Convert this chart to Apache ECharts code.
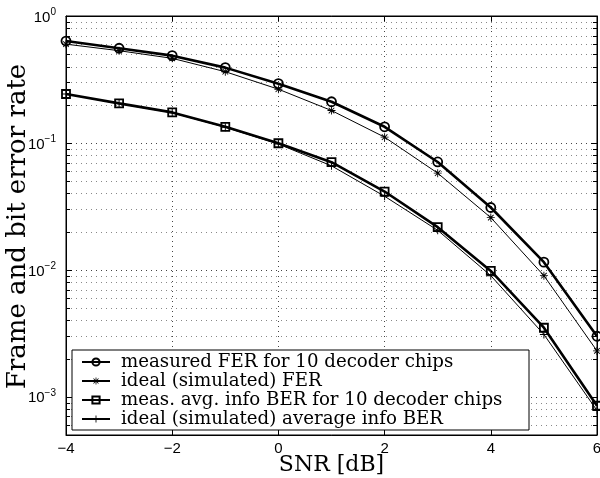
<!DOCTYPE html>
<html>
<head>
<meta charset="utf-8">
<title>Frame and bit error rate vs SNR</title>
<script src="https://cdn.jsdelivr.net/npm/echarts@6/dist/echarts.min.js"></script>
<style>
  html, body { margin: 0; padding: 0; background: #fff; }
  #chart { width: 600px; height: 478px; }
</style>
</head>
<body>
<div id="chart"></div>
<script>
// SNR points in dB
const snr = [-4, -3, -2, -1, 0, 1, 2, 3, 4, 5, 6];

// Frame error rate: measured (10 decoder chips) and ideal simulation
const ferMeasured = [0.635, 0.557, 0.487, 0.392, 0.293, 0.211, 0.134, 0.0708, 0.031, 0.0115, 0.0030];
const ferIdeal    = [0.600, 0.533, 0.464, 0.364, 0.265, 0.180, 0.111, 0.0578, 0.0258, 0.0090, 0.0023];

// Average information bit error rate: measured and ideal simulation
const berMeasured = [0.243, 0.205, 0.174, 0.134, 0.0994, 0.0705, 0.0414, 0.0217, 0.0098, 0.0035, 0.00085];
const berIdeal    = [0.243, 0.204, 0.173, 0.133, 0.0980, 0.0660, 0.0380, 0.0205, 0.0090, 0.0031, 0.00078];

const seriesNames = [
  'measured FER for 10 decoder chips',
  'ideal (simulated) FER',
  'meas. avg. info BER for 10 decoder chips',
  'ideal (simulated) average info BER'
];

const xTitle = 'SNR [dB]';
const yTitle = 'Frame and bit error rate';

// Axis ranges
const X_MIN = -4, X_MAX = 6, X_STEP = 2;
const Y_MIN = 0.0005, Y_MAX = 1;

// Minor log-grid values (2..9 times each decade) inside the y range
const minorValues = [];
for (let d = -4; d <= -1; d++) {
  for (let k = 2; k <= 9; k++) {
    const v = k * Math.pow(10, d);
    if (v > Y_MIN * 1.0001 && v < Y_MAX) minorValues.push(v);
  }
}

const pairs = arr => snr.map((x, i) => [x, arr[i]]);

const ASTERISK = 'path://M-0.55,-5h1.1v10h-1.1z M-5,-0.55h10v1.1h-10z ' +
  'M-3.9,-3.1L-3.1,-3.9L3.9,3.1L3.1,3.9z M3.1,-3.9L3.9,-3.1L-3.1,3.9L-3.9,3.1z';
const PLUS = 'path://M-0.6,-5h1.2v10h-1.2z M-5,-0.6h10v1.2h-10z';

const sansFont = 'Liberation Sans';
const serifFont = 'DejaVu Serif';
const minus = n => (n < 0 ? '\u2212' + Math.abs(n) : String(n));

// Plot box in pixels
const GRID = { left: 66, right: 3, top: 16, bottom: 43 };
const W = 600, H = 478;

const chart = echarts.init(document.getElementById('chart'), null, { renderer: 'canvas' });

const option = {
  animation: false,
  backgroundColor: '#fff',
  grid: Object.assign({
    outerBoundsMode: 'none', containLabel: false,
    show: true, borderColor: '#000', borderWidth: 1, backgroundColor: 'transparent'
  }, GRID),
  xAxis: [
    {
      type: 'value', min: X_MIN, max: X_MAX, interval: X_STEP,
      axisLine: { show: true, onZero: false, lineStyle: { color: '#000', width: 1 } },
      axisTick: { show: true, inside: true, length: 5, lineStyle: { color: '#000' } },
      axisLabel: {
        fontFamily: sansFont, fontSize: 15, color: '#000', margin: 6,
        formatter: v => minus(v)
      },
      splitLine: { show: true, lineStyle: { color: '#444', width: 1, type: [1, 4] } }
    },
    {
      type: 'value', min: X_MIN, max: X_MAX, interval: X_STEP, position: 'top',
      axisLine: { show: true, onZero: false, lineStyle: { color: '#000' } },
      axisTick: { show: true, inside: true, length: 5, lineStyle: { color: '#000' } },
      axisLabel: { show: false }, splitLine: { show: false }
    }
  ],
  yAxis: [
    {
      type: 'log', logBase: 10, min: Y_MIN, max: Y_MAX,
      axisLine: { show: true, onZero: false, lineStyle: { color: '#000', width: 1 } },
      axisTick: { show: true, inside: true, length: 6, lineStyle: { color: '#000' } },
      axisLabel: {
        margin: 10, showMinLabel: true,
        formatter: function (v) {
          const e = Math.log10(v);
          if (Math.abs(e - Math.round(e)) > 1e-6) return '';
          return '{b|10}{e|' + minus(Math.round(e)) + '}';
        },
        rich: {
          b: { fontFamily: sansFont, fontSize: 15, color: '#000', lineHeight: 18, verticalAlign: 'bottom' },
          e: { fontFamily: sansFont, fontSize: 10, color: '#000', lineHeight: 10, verticalAlign: 'top' }
        }
      },
      splitLine: { show: true, lineStyle: { color: '#444', width: 1, type: [1, 4] } }
    },
    {
      type: 'log', logBase: 10, min: Y_MIN, max: Y_MAX, position: 'right',
      axisLine: { show: true, onZero: false, lineStyle: { color: '#000' } },
      axisTick: { show: true, inside: true, length: 6, lineStyle: { color: '#000' } },
      axisLabel: { show: false }, splitLine: { show: false }
    }
  ],
  legend: {
    orient: 'vertical', left: 81, top: 353, padding: 0,
    itemWidth: 28, itemHeight: 9, itemGap: 1, z: 20,
    align: 'left',
    data: seriesNames,
    textStyle: { fontFamily: serifFont, fontSize: 18.2, color: '#000', padding: [0, 0, 0, 6] }
  },
  graphic: [
    {
      // legend frame
      type: 'rect', z: 15, silent: true,
      shape: { x: 72, y: 350, width: 457, height: 80 },
      style: { fill: '#fff', stroke: '#000', lineWidth: 1 }
    },
    {
      // x axis title, centred under the plot box
      type: 'text', silent: true,
      x: (GRID.left + W - GRID.right) / 2, y: H - 13,
      style: { text: xTitle, fontFamily: serifFont, fontSize: 22, fill: '#000',
               align: 'center', verticalAlign: 'middle' }
    },
    {
      // y axis title, rotated and centred beside the plot box
      type: 'text', silent: true,
      x: 18, y: (GRID.top + H - GRID.bottom) / 2 + 1, rotation: Math.PI / 2,
      style: { text: yTitle, fontFamily: serifFont, fontSize: 26, fill: '#000',
               align: 'center', verticalAlign: 'middle' }
    }
  ],
  series: [
    {
      // minor log grid lines and minor ticks on both sides
      type: 'custom', name: 'minorGrid', silent: true, z: 1,
      xAxisIndex: 0, yAxisIndex: 0,
      data: minorValues.map(v => [X_MIN, v]),
      renderItem: function (params, api) {
        const cs = params.coordSys;
        const y = Math.round(api.coord([api.value(0), api.value(1)])[1]) + 0.5;
        return {
          type: 'group',
          children: [
            { type: 'line', shape: { x1: cs.x, y1: y, x2: cs.x + cs.width, y2: y },
              style: { stroke: '#888', lineWidth: 1, lineDash: [1, 4] } },
            { type: 'line', shape: { x1: cs.x, y1: y, x2: cs.x + 4, y2: y },
              style: { stroke: '#000', lineWidth: 1 } },
            { type: 'line', shape: { x1: cs.x + cs.width - 4, y1: y, x2: cs.x + cs.width, y2: y },
              style: { stroke: '#000', lineWidth: 1 } }
          ]
        };
      }
    },
    {
      name: seriesNames[0], type: 'line', data: pairs(ferMeasured), z: 5,
      symbol: 'circle', symbolSize: 9,
      lineStyle: { color: '#000', width: 2.6 },
      itemStyle: { color: 'rgba(255,255,255,0)', borderColor: '#000', borderWidth: 1.8 }
    },
    {
      name: seriesNames[1], type: 'line', data: pairs(ferIdeal), z: 4,
      symbol: ASTERISK, symbolSize: 8,
      lineStyle: { color: '#000', width: 1 },
      itemStyle: { color: '#000', borderWidth: 0 }
    },
    {
      name: seriesNames[2], type: 'line', data: pairs(berMeasured), z: 5,
      symbol: 'rect', symbolSize: 8,
      lineStyle: { color: '#000', width: 2.6 },
      itemStyle: { color: 'rgba(255,255,255,0)', borderColor: '#000', borderWidth: 1.8 }
    },
    {
      name: seriesNames[3], type: 'line', data: pairs(berIdeal), z: 4,
      symbol: PLUS, symbolSize: 8,
      lineStyle: { color: '#000', width: 1 },
      itemStyle: { color: '#000', borderWidth: 0 }
    }
  ]
};

chart.setOption(option);
</script>
</body>
</html>
